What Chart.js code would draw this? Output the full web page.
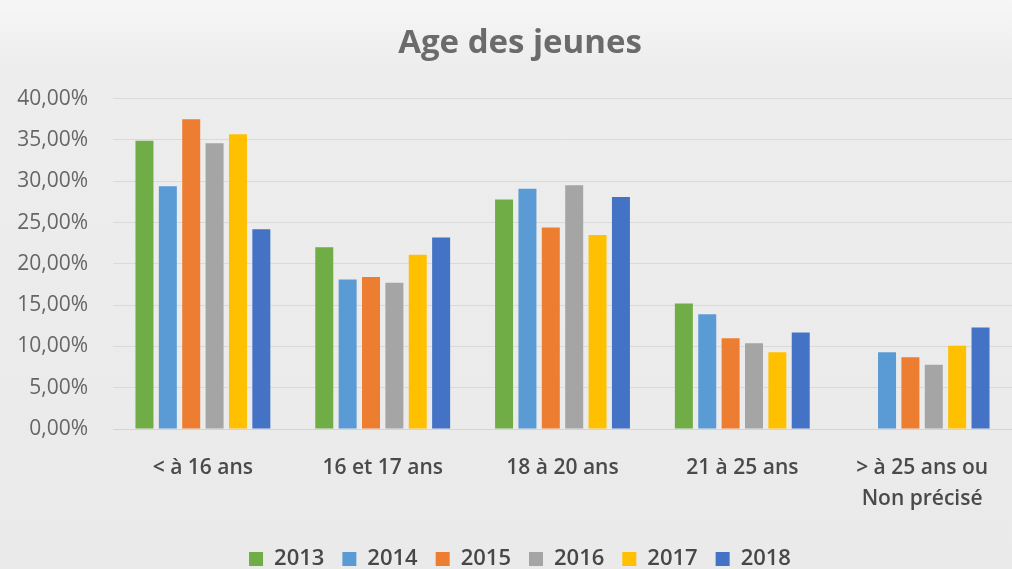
<!DOCTYPE html>
<html>
<head>
<meta charset="utf-8">
<script src="https://cdn.jsdelivr.net/npm/chart.js@4"></script>
<style>
  body { margin: 0; background: #ebebeb; }
  #wrap { width: 1012px; height: 569px; }
</style>
</head>
<body>
<div id="wrap"><canvas id="ageChart"></canvas></div>
<script>
const categories = ["< à 16 ans", "16 et 17 ans", "18 à 20 ans", "21 à 25 ans", ["> à 25 ans ou", "Non précisé"]];
const years = ["2013", "2014", "2015", "2016", "2017", "2018"];
const v2013 = [34.9, 22.0, 27.8, 15.2, null];
const v2014 = [29.4, 18.1, 29.1, 13.9, 9.3];
const v2015 = [37.5, 18.4, 24.4, 11.0, 8.7];
const v2016 = [34.6, 17.7, 29.5, 10.4, 7.8];
const v2017 = [35.7, 21.1, 23.5, 9.3, 10.1];
const v2018 = [24.2, 23.2, 28.1, 11.7, 12.3];
const colors = ["#70ad47", "#5b9bd5", "#ed7d31", "#a5a5a5", "#ffc000", "#4472c4"];

const series = [v2013, v2014, v2015, v2016, v2017, v2018];

const bgPlugin = {
    id: "bg",
    beforeDraw(chart) {
        const { ctx, width, height } = chart;
        const g = ctx.createLinearGradient(0, 0, 0, height);
        g.addColorStop(0, "#f6f6f6");
        g.addColorStop(0.12, "#ededed");
        g.addColorStop(1, "#eaeaea");
        ctx.save();
        ctx.fillStyle = g;
        ctx.fillRect(0, 0, width, height);
        ctx.restore();
    }
};

// title and legend sit a bit right of the canvas centre in the original
const shiftPlugin = {
    id: "shift",
    afterLayout(chart) {
        chart.titleBlock.left += 28;
        chart.legend.left += 28;
    }
};

Chart.defaults.font.family = "'Open Sans', sans-serif";

new Chart(document.getElementById("ageChart"), {
    type: "bar",
    data: {
        labels: categories,
        datasets: years.map((y, i) => ({
            label: y,
            data: series[i],
            backgroundColor: colors[i],
            categoryPercentage: 0.78,
            barPercentage: 0.77
        }))
    },
    options: {
        responsive: true,
        maintainAspectRatio: false,
        animation: false,
        layout: { padding: { left: 0, right: 0, top: 24, bottom: -11 } },
        plugins: {
            title: {
                display: true,
                text: "Age des jeunes",
                color: "#6b6b6b",
                font: { size: 33, weight: "bold" },
                padding: { top: 0, bottom: 35 }
            },
            legend: {
                position: "bottom",
                labels: {
                    boxWidth: 14,
                    boxHeight: 14,
                    color: "#474747",
                    font: { size: 22, weight: "600" },
                    padding: 18
                }
            },
            tooltip: { enabled: false }
        },
        scales: {
            x: {
                grid: { display: false },
                border: { color: "#d4d4d4" },
                ticks: {
                    color: "#4a4a4a",
                    font: { size: 21, weight: "600", lineHeight: 1.45 },
                    padding: 16,
                    maxRotation: 0
                }
            },
            y: {
                min: 0,
                max: 40,
                afterFit: scale => { scale.width = 113; },
                grid: { color: "#dadada", drawTicks: false },
                border: { display: false },
                ticks: {
                    stepSize: 5,
                    color: "#666666",
                    font: { size: 21 },
                    padding: 25,
                    callback: v => v.toFixed(2).replace(".", ",") + "%"
                }
            }
        }
    },
    plugins: [bgPlugin, shiftPlugin]
});
</script>
</body>
</html>
